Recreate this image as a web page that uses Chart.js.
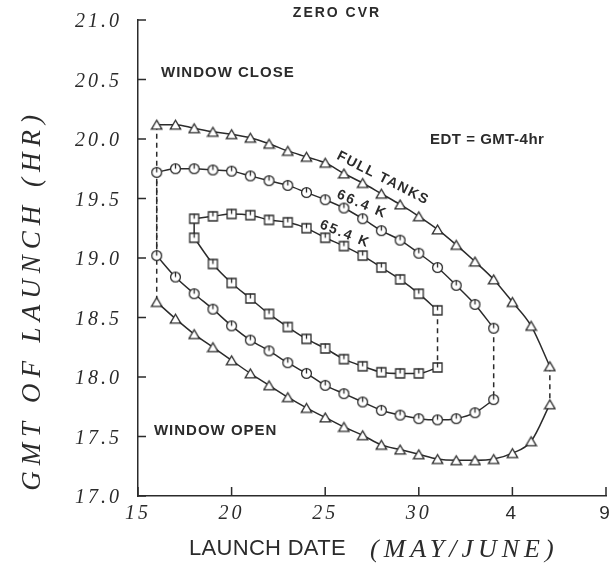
<!DOCTYPE html>
<html>
<head>
<meta charset="utf-8">
<script src="https://cdn.jsdelivr.net/npm/chart.js@4.4.1/dist/chart.umd.min.js"></script>
<style>
  html, body { margin:0; padding:0; background:#fff; }
  #wrap { width:613px; height:569px; position:relative; }
</style>
</head>
<body>
<div id="wrap"><canvas id="c"></canvas></div>
<script>
// launch day (May; 32+ is June) and GMT of launch (hr)
const tankDays  = [16,17,18,19,20,21,22,23,24,25,26,27,28,29,30,31,32,33,34,35,36,37];
const tankClose = [20.12,20.12,20.09,20.06,20.04,20.01,19.96,19.90,19.85,19.80,19.71,19.63,19.54,19.45,19.35,19.24,19.11,18.97,18.82,18.63,18.43,18.09];
const tankOpen  = [18.63,18.49,18.36,18.25,18.14,18.03,17.93,17.83,17.74,17.66,17.58,17.51,17.43,17.39,17.35,17.31,17.30,17.30,17.31,17.36,17.46,17.77];

const k664Days  = [16,17,18,19,20,21,22,23,24,25,26,27,28,29,30,31,32,33,34];
const k664Close = [19.72,19.75,19.75,19.74,19.73,19.69,19.65,19.61,19.55,19.49,19.42,19.33,19.23,19.15,19.04,18.92,18.77,18.61,18.41];
const k664Open  = [19.02,18.84,18.70,18.57,18.43,18.31,18.22,18.12,18.03,17.93,17.86,17.79,17.72,17.68,17.65,17.64,17.65,17.70,17.81];

const k654Days  = [18,19,20,21,22,23,24,25,26,27,28,29,30,31];
const k654Close = [19.33,19.35,19.37,19.36,19.32,19.30,19.25,19.17,19.10,19.02,18.92,18.82,18.70,18.56];
const k654Open  = [19.17,18.95,18.79,18.66,18.53,18.42,18.32,18.24,18.15,18.09,18.04,18.03,18.03,18.08];

const xTickValues = [15,20,25,30,35,40];
const xTickLabels = ['15','20','25','30','4','9'];
const yTicks = [17,17.5,18,18.5,19,19.5,20,20.5,21];

const ink = '#2b2b2b';

// hollow markers like the plotter's, circle and square carry a short tick
function mark(shape){
  const c = document.createElement('canvas');
  c.width = 13; c.height = 13;
  const g = c.getContext('2d');
  g.strokeStyle = ink; g.fillStyle = '#fff'; g.lineWidth = 1.3;
  g.beginPath();
  if(shape==='tri'){ g.moveTo(6.5,2); g.lineTo(1.3,10.8); g.lineTo(11.7,10.8); g.closePath(); }
  else if(shape==='circ'){ g.arc(6.5,6.5,4.9,0,Math.PI*2); }
  else { g.rect(2,2,9,9); }
  g.fill(); g.stroke();
  if(shape!=='tri'){ g.beginPath(); g.moveTo(6.5,1.6); g.lineTo(6.5,6.5); g.stroke(); }
  return c;
}

const curves = [
  { days:tankDays, close:tankClose, open:tankOpen, shape:'tri',  leftDash:true  },
  { days:k664Days, close:k664Close, open:k664Open, shape:'circ', leftDash:true  },
  { days:k654Days, close:k654Close, open:k654Open, shape:'sq',   leftDash:false },
];

const pts = (xs, ys) => xs.map((x,i) => ({ x, y: ys[i] }));
const datasets = [];
curves.forEach(c => {
  const img = mark(c.shape);
  [c.close, c.open].forEach(ys => datasets.push({
    data: pts(c.days, ys), showLine:true, borderColor:ink, borderWidth:1.5,
    pointStyle:img, pointRadius:5, cubicInterpolationMode:'monotone', order:1
  }));
  const a = c.days[0], b = c.days.at(-1);
  datasets.push({ data:[{x:a,y:c.close[0]},{x:a,y:c.open[0]}], showLine:true, borderColor:ink,
    borderWidth:1.5, borderDash: c.leftDash ? [5,4] : [], pointRadius:0, order:2 });
  datasets.push({ data:[{x:b,y:c.close.at(-1)},{x:b,y:c.open.at(-1)}], showLine:true, borderColor:ink,
    borderWidth:1.5, borderDash:[5,4], pointRadius:0, order:2 });
});

// labels on the plot, anchored in data units
const notes = [
  { text:'ZERO CVR',      x:25.63, y:21.06, align:'center', size:14, sp:2,   rot:0 },
  { text:'WINDOW CLOSE',  x:16.23, y:20.56, align:'left',   size:15, sp:1,   rot:0 },
  { text:'EDT = GMT-4hr', x:30.60, y:19.99, align:'left',   size:15, sp:0.5, rot:0 },
  { text:'WINDOW OPEN',   x:15.85, y:17.55, align:'left',   size:15, sp:1,   rot:0 },
  { text:'FULL TANKS',    x:28.09, y:19.67, align:'center', size:14, sp:1.5, rot:27 },
  { text:'66.4 K',        x:26.97, y:19.45, align:'center', size:14, sp:2,   rot:23 },
  { text:'65.4 K',        x:26.06, y:19.20, align:'center', size:14, sp:2,   rot:22 },
];

const decor = {
  id:'decor',
  beforeDraw(chart){ chart.ctx.letterSpacing = '3px'; },
  afterDraw(chart){
    const { ctx, chartArea:a, scales:{ x, y } } = chart;
    ctx.save();
    ctx.letterSpacing = '0px';
    // ticks point inward
    ctx.strokeStyle = ink; ctx.lineWidth = 1.5;
    ctx.beginPath();
    yTicks.forEach(v => { const p = y.getPixelForValue(v); ctx.moveTo(a.left, p); ctx.lineTo(a.left+8, p); });
    xTickValues.forEach(v => { const p = x.getPixelForValue(v); ctx.moveTo(p, a.bottom); ctx.lineTo(p, a.bottom-9); });
    ctx.stroke();

    ctx.fillStyle = ink; ctx.textBaseline = 'middle';
    notes.forEach(n => {
      ctx.save();
      ctx.font = `bold ${n.size}px "Liberation Sans"`;
      ctx.letterSpacing = n.sp + 'px';
      ctx.textAlign = n.align;
      ctx.translate(x.getPixelForValue(n.x), y.getPixelForValue(n.y));
      ctx.rotate(n.rot * Math.PI / 180);
      ctx.fillText(n.text, 0, 0);
      ctx.restore();
    });

    // axis titles
    ctx.save();
    ctx.font = 'italic 27px "Liberation Serif"';
    ctx.letterSpacing = '6px';
    ctx.textAlign = 'center';
    ctx.translate(33, 300);
    ctx.rotate(-Math.PI/2);
    ctx.fillText('GMT OF LAUNCH (HR)', 0, 0);
    ctx.restore();

    ctx.textAlign = 'left';
    ctx.font = '22px "Liberation Sans"';
    ctx.letterSpacing = '0.3px';
    ctx.fillText('LAUNCH DATE', 189, 549);
    ctx.font = 'italic 26px "Liberation Serif"';
    ctx.letterSpacing = '5px';
    ctx.fillText('(MAY/JUNE)', 370, 550);
    ctx.restore();
    ctx.letterSpacing = '0px';
  }
};

new Chart(document.getElementById('c'), {
  type:'scatter',
  data:{ datasets },
  plugins:[decor],
  options:{
    responsive:true,
    maintainAspectRatio:false,
    animation:false,
    layout:{ padding:{ left:0, top:20, right:7, bottom:0 } },
    plugins:{ legend:{ display:false }, tooltip:{ enabled:false } },
    scales:{
      x:{
        type:'linear', min:15, max:40,
        grid:{ display:false },
        border:{ color:ink, width:1.5 },
        afterBuildTicks: s => { s.ticks = xTickValues.map(value => ({ value })); },
        afterFit: s => { s.height = 73; },
        ticks:{
          color:ink, padding:-2, maxRotation:0, autoSkip:false,
          callback:(v,i) => xTickLabels[i],
          font: ctx => (ctx.tick && ctx.tick.value > 31)
            ? { family:'"Liberation Sans"', size:19 }
            : { family:'"Liberation Serif"', style:'italic', size:20 }
        }
      },
      y:{
        type:'linear', min:17, max:21,
        grid:{ display:false },
        border:{ color:ink, width:1.5 },
        afterBuildTicks: s => { s.ticks = yTicks.map(value => ({ value })); },
        afterFit: s => { s.width = 138; },
        ticks:{
          color:ink, padding:8, labelOffset:2,
          callback: v => v.toFixed(1),
          font:{ family:'"Liberation Serif"', style:'italic', size:20 }
        }
      }
    }
  }
});
</script>
</body>
</html>
